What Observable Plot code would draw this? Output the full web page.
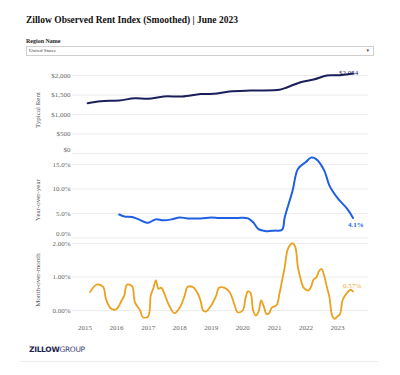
<!DOCTYPE html>
<html>
<head>
<meta charset="utf-8">
<script src="https://cdn.jsdelivr.net/npm/d3@7"></script>
<script src="https://cdn.jsdelivr.net/npm/@observablehq/plot@0.6"></script>
<style>
  html, body { margin: 0; padding: 0; background: #fff; }
  #wrap { position: relative; width: 400px; height: 375px; overflow: hidden; font-family: "Liberation Serif", "DejaVu Serif", serif; }
  .abs { position: absolute; }
  #title { left: 26px; top: 15px; font-size: 9.5px; font-weight: bold; color: #111; white-space: nowrap; }
  #rlabel { left: 26px; top: 38px; font-size: 6px; font-weight: bold; color: #222; }
  #dropdown { left: 26px; top: 46px; width: 344px; height: 8px; border: 1px solid #cfcfcf; box-sizing: content-box; font-size: 5px; line-height: 8px; color: #444; padding-left: 2px; }
  #dropdown span { position: absolute; right: 4px; top: 0; font-size: 5px; }
  .ytitle { font-size: 7px; color: #555; transform: rotate(-90deg); transform-origin: center; white-space: nowrap; text-align: center; width: 100px; }
  #footer { left: 29px; top: 345px; font-family: "DejaVu Sans", sans-serif; font-size: 7.5px; color: #1b2350; letter-spacing: -0.3px; }
  #footer b { font-weight: 900; }
  #footer span { font-weight: normal; color: #3a4270; }
  #rule { left: 20px; top: 361px; width: 358px; height: 1px; background: #ececec; }
  .panel { position: absolute; left: 0; }
  .panel svg { overflow: visible; }
</style>
</head>
<body>
<div id="wrap">
  <div id="title" class="abs">Zillow Observed Rent Index (Smoothed) | June 2023</div>
  <div id="rlabel" class="abs">Region Name</div>
  <div id="dropdown" class="abs">United States<span>▾</span></div>
  <div class="abs ytitle" style="left:-12px; top:106px;">Typical Rent</div>
  <div class="abs ytitle" style="left:-12px; top:196px;">Year-over-year</div>
  <div class="abs ytitle" style="left:-12px; top:276px;">Month-over-month</div>
  <div id="p1" class="panel" style="top:65px;"></div>
  <div id="p2" class="panel" style="top:155px;"></div>
  <div id="p3" class="panel" style="top:238px;"></div>
  <div id="footer" class="abs"><b>ZILLOW</b><span>GROUP</span></div>
  <div id="rule" class="abs"></div>
</div>
<script>
// ---- Data (month-end dates) ----
const rentMonths = ["2015-01","2015-06","2016-01","2016-07","2016-12","2017-06","2018-01","2018-08","2019-01","2019-07","2020-03","2021-02","2021-05","2021-10","2022-03","2022-08","2022-12","2023-06"];
const rentValues = [1290,1341,1359,1418,1402,1462,1462,1525,1530,1590,1615,1633,1700,1828,1897,2000,2005,2054];
const rentTicks = [500, 1000, 1500, 2000];
const rentZeroTick = [0];

const yoyMonths = ["2016-01","2016-03","2016-06","2016-08","2016-12","2017-02","2017-03","2017-06","2017-09","2017-12","2018-03","2018-08","2018-12","2019-03","2019-10","2020-02","2020-04","2020-06","2020-09","2020-12","2021-03","2021-04","2021-07","2021-09","2021-12","2022-02","2022-04","2022-07","2022-09","2022-12","2023-04","2023-06"];
const yoyValues = [4.8,4.4,4.3,3.9,3.1,3.6,3.8,3.6,3.8,4.2,4.0,4.0,4.2,4.1,4.1,4.0,3.2,1.8,1.4,1.5,1.7,4.2,9.7,14.1,15.5,16.4,16.1,13.8,10.7,8.2,5.8,4.1];
const yoyTicks = [5, 10, 15];
const yoyZeroTick = [0];

const momMonths = ["2015-02","2015-04","2015-05","2015-07","2015-08","2015-10","2015-12","2016-02","2016-03","2016-04","2016-06","2016-07","2016-09","2016-10","2016-12","2017-01","2017-02","2017-03","2017-04","2017-05","2017-06","2017-08","2017-10","2017-12","2018-02","2018-03","2018-05","2018-07","2018-08","2018-09","2018-10","2018-12","2019-02","2019-03","2019-05","2019-07","2019-09","2019-10","2019-12","2020-01","2020-02","2020-03","2020-04","2020-05","2020-06","2020-07","2020-08","2020-09","2020-10","2020-11","2020-12","2021-01","2021-02","2021-03","2021-04","2021-05","2021-06","2021-07","2021-08","2021-09","2021-10","2021-11","2021-12","2022-01","2022-02","2022-03","2022-04","2022-05","2022-06","2022-07","2022-08","2022-09","2022-10","2022-11","2022-12","2023-01","2023-02","2023-03","2023-04","2023-05","2023-06"];
const momValues = [0.55,0.75,0.78,0.70,0.35,0.05,0.04,0.30,0.45,0.77,0.72,0.25,0.0,-0.20,-0.18,0.45,0.65,0.90,0.65,0.68,0.55,0.15,-0.08,0.08,0.45,0.70,0.70,0.50,0.28,0.0,-0.03,0.15,0.45,0.68,0.68,0.55,0.15,-0.05,0.0,0.35,0.57,0.52,0.0,-0.15,-0.05,0.30,0.12,-0.10,-0.08,0.08,0.12,0.18,0.50,0.90,1.29,1.79,1.95,2.01,1.89,1.29,0.95,0.70,0.62,0.60,0.70,0.93,0.98,1.17,1.24,1.04,0.70,0.40,-0.15,-0.25,-0.18,-0.10,0.30,0.45,0.55,0.62,0.57];
const momTicks = [1, 2];
const momZeroTick = [0];

const yearTicks = [2015,2016,2017,2018,2019,2020,2021,2022,2023];

// ---- helpers ----
const monthEnd = s => { const [y, m] = s.split("-").map(Number); return new Date(Date.UTC(y, m, 0)); };
const toRows = (months, values) => months.map((m, i) => ({date: monthEnd(m), value: values[i]}));
const rent = toRows(rentMonths, rentValues);
const yoy = toRows(yoyMonths, yoyValues);
const mom = toRows(momMonths, momValues);
const yearDates = yearTicks.map(y => new Date(Date.UTC(y, 0, 1)));

const W = 400, ML = 72, MR = 32;
const xDomain = [new Date(Date.UTC(2014, 7, 9)), new Date(Date.UTC(2023, 11, 26))];
const font = "Liberation Serif, DejaVu Serif, serif";
const baseStyle = {fontFamily: font, fontSize: "7px", background: "transparent", overflow: "visible"};
const grid = "#ececec";
const tickColor = "#666";

const last = a => a[a.length - 1];

// Panel 1: Typical Rent
const p1 = Plot.plot({
  width: W, height: 92, marginLeft: ML, marginRight: MR, marginTop: 10, marginBottom: 4,
  style: baseStyle,
  x: {type: "utc", domain: xDomain, axis: null},
  y: {domain: [0, 2000], axis: null},
  marks: [
    Plot.gridY(rentTicks.concat(rentZeroTick), {stroke: grid, strokeOpacity: 1}),
    Plot.axisY(rentTicks, {tickSize: 0, tickPadding: 2, tickFormat: d => "$" + d3.format(",")(d), fill: tickColor, label: null}),
    Plot.axisY(rentZeroTick, {tickSize: 0, tickPadding: 2, dy: -4, tickFormat: d => "$" + d, fill: tickColor, label: null}),
    Plot.line(rent, {x: "date", y: "value", stroke: "#1a1f5a", strokeWidth: 2, curve: "catmull-rom"}),
    Plot.text([last(rent)], {x: "date", y: "value", text: d => "$" + d3.format(",")(d.value), fill: "#1a1f5a", dx: -14, dy: -1, textAnchor: "start", fontSize: 7})
  ]
});
document.getElementById("p1").append(p1);

// Panel 2: Year-over-year
const p2 = Plot.plot({
  width: W, height: 85, marginLeft: ML, marginRight: MR, marginTop: 9, marginBottom: 2.5,
  style: baseStyle,
  x: {type: "utc", domain: xDomain, axis: null},
  y: {domain: [0, 15], axis: null},
  marks: [
    Plot.gridY(yoyTicks.concat(yoyZeroTick), {stroke: grid, strokeOpacity: 1}),
    Plot.axisY(yoyTicks, {tickSize: 0, tickPadding: 2, tickFormat: d => d.toFixed(1) + "%", fill: tickColor, label: null}),
    Plot.axisY(yoyZeroTick, {tickSize: 0, tickPadding: 2, dy: -4, tickFormat: d => d.toFixed(1) + "%", fill: tickColor, label: null}),
    Plot.line(yoy, {x: "date", y: "value", stroke: "#1f5fe6", strokeWidth: 2, curve: "catmull-rom"}),
    Plot.text([last(yoy)], {x: "date", y: "value", text: d => d.value.toFixed(1) + "%", fill: "#1f5fe6", fontWeight: "bold", dx: -5, dy: 7, textAnchor: "start", fontSize: 7})
  ]
});
document.getElementById("p2").append(p2);

// Panel 3: Month-over-month
const p3 = Plot.plot({
  width: W, height: 100, marginLeft: ML, marginRight: MR, marginTop: 5, marginBottom: 28,
  style: baseStyle,
  x: {type: "utc", domain: xDomain, axis: null},
  y: {domain: [0, 2], axis: null},
  marks: [
    Plot.gridY(momTicks.concat(momZeroTick), {stroke: grid, strokeOpacity: 1}),
    Plot.axisY(momTicks.concat(momZeroTick), {tickSize: 0, tickPadding: 2, tickFormat: d => d.toFixed(2) + "%", fill: tickColor, label: null}),
    Plot.axisX(yearDates, {tickSize: 0, tickPadding: 15, tickFormat: d => String(d.getUTCFullYear()), fill: tickColor, label: null}),
    Plot.line(mom, {x: "date", y: "value", stroke: "#eba11e", strokeWidth: 1.8, curve: "catmull-rom"}),
    Plot.text([last(mom)], {x: "date", y: "value", text: d => d.value.toFixed(2) + "%", fill: "#e9a93a", dx: -10, dy: -6, textAnchor: "start", fontSize: 7})
  ]
});
document.getElementById("p3").append(p3);
</script>
</body>
</html>
